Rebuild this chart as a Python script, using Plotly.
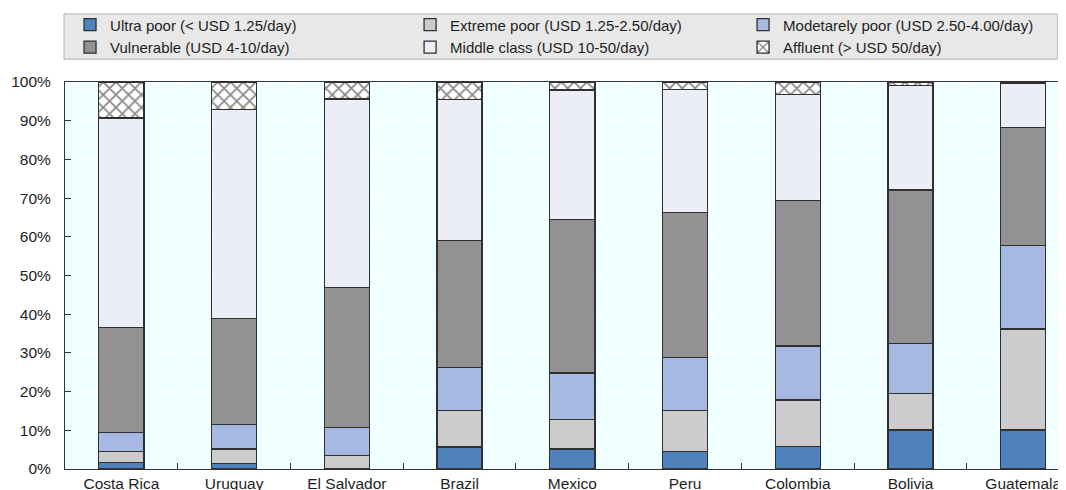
import plotly.graph_objects as go

countries = ["Costa Rica", "Uruguay", "El Salvador", "Brazil", "Mexico", "Peru", "Colombia", "Bolivia", "Guatemala"]

ultra_poor = [1.7, 1.5, 0.0, 5.7, 5.2, 4.6, 5.8, 10.1, 10.1]
extreme_poor = [2.8, 3.7, 3.4, 9.5, 7.6, 10.6, 12.0, 9.5, 26.1]
moderately_poor = [5.0, 6.3, 7.3, 11.1, 12.0, 13.6, 14.0, 12.9, 21.5]
vulnerable = [27.0, 27.4, 36.2, 32.8, 39.7, 37.5, 37.6, 39.6, 30.6]
middle_class = [54.2, 54.0, 48.7, 36.3, 33.4, 31.8, 27.4, 27.0, 11.4]
affluent = [9.3, 7.1, 4.4, 4.6, 2.1, 1.9, 3.2, 0.9, 0.3]

series_names = [
    "Ultra poor (< USD 1.25/day)",
    "Extreme poor (USD 1.25-2.50/day)",
    "Modetarely poor (USD 2.50-4.00/day)",
    "Vulnerable (USD 4-10/day)",
    "Middle class (USD 10-50/day)",
    "Affluent (> USD 50/day)",
]
series_values = [ultra_poor, extreme_poor, moderately_poor, vulnerable, middle_class, affluent]
series_colors = ["#4F81BD", "#CCCCCC", "#A7B9E3", "#929292", "#EBEEF7", "#FFFFFF"]
legend_ids = ["legend", "legend2", "legend3", "legend", "legend2", "legend3"]

y_ticks = list(range(0, 101, 10))
y_tick_labels = [f"{v}%" for v in y_ticks]

FONT = "Liberation Sans, Arial, sans-serif"
TXT = "#1E1E1E"

fig = go.Figure()
for i, (name, vals, col, lg) in enumerate(zip(series_names, series_values, series_colors, legend_ids)):
    marker = dict(color=col, line=dict(color="#303030", width=1.3))
    if name.startswith("Affluent"):
        marker["pattern"] = dict(shape="x", fgcolor="#111111", bgcolor="#FFFFFF", size=9, solidity=0.35)
    fig.add_trace(go.Bar(name=name, x=countries, y=vals, marker=marker, width=0.4,
                         legend=lg, legendgroup=f"g{i}"))

leg_common = dict(
    orientation="v",
    traceorder="normal",
    xanchor="left",
    y=1.19,
    yanchor="top",
    bgcolor="rgba(0,0,0,0)",
    borderwidth=0,
    font=dict(family=FONT, size=15, color=TXT),
    tracegroupgap=2,
)

fig.update_layout(
    barmode="stack",
    width=1066,
    height=490,
    margin=dict(l=57, r=0, t=74, b=29, autoexpand=False),
    paper_bgcolor="#FFFFFF",
    plot_bgcolor="#F0FFFF",
    font=dict(family=FONT, size=15, color=TXT),
    showlegend=True,
    legend=dict(x=0.005, **leg_common),
    legend2=dict(x=0.342, **leg_common),
    legend3=dict(x=0.672, **leg_common),
    shapes=[
        dict(
            type="rect", xref="paper", yref="paper",
            x0=-0.001, x1=0.984, y0=1.059, y1=1.176,
            fillcolor="#E8E8E8", line=dict(color="#B4B4B4", width=1), layer="below",
        )
    ],
)

fig.update_xaxes(
    range=[-0.5, 8.45],
    showline=True, linecolor="#333333", linewidth=1.2, mirror=True,
    ticks="inside", ticklen=6, tickcolor="#333333", tickson="boundaries",
    showgrid=True, gridcolor="#FFFFFF", gridwidth=1,
    tickfont=dict(family=FONT, size=15.5, color=TXT),
)
fig.update_yaxes(
    range=[0, 100],
    tickvals=y_ticks, ticktext=y_tick_labels,
    showline=True, linecolor="#333333", linewidth=1.2,
    ticks="inside", ticklen=6, tickcolor="#333333",
    ticklabelstandoff=10,
    showgrid=True, gridcolor="#FFFFFF", gridwidth=1,
    zeroline=False,
    tickfont=dict(family=FONT, size=15.5, color=TXT),
)

fig.write_html("out.html")
